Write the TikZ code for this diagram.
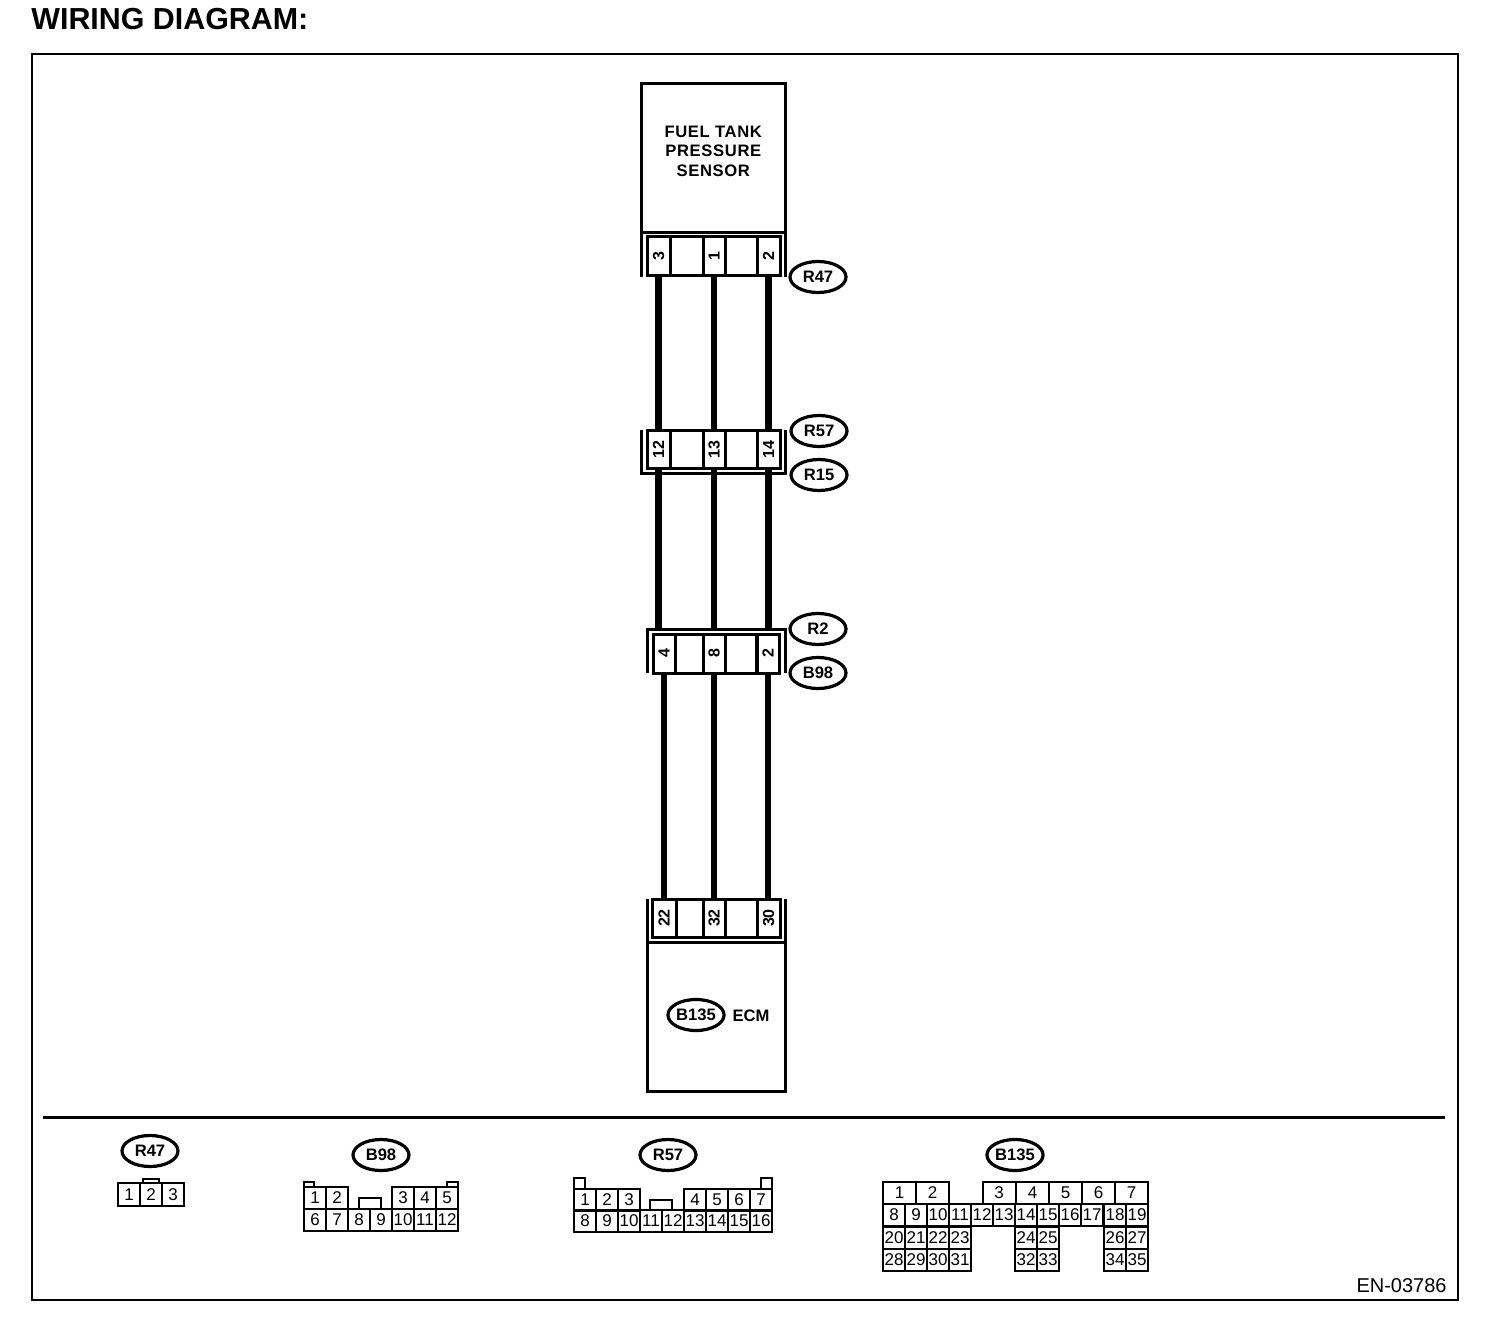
\documentclass[tikz,border=0pt]{standalone}
\usepackage{fontspec}
\setmainfont{Liberation Sans}
\usetikzlibrary{shapes,shapes.geometric}
\tikzset{
	wire/.style={line width=3.4pt},
	pin/.style={draw,line width=1.5pt,inner sep=0pt,outer sep=0pt,font=\bfseries\fontsize{8}{9}\selectfont},
	cell/.style={draw,line width=1pt,inner sep=0pt,outer sep=0pt,minimum width=11.05pt,minimum height=11pt,font=\fontsize{8.5}{9}\selectfont},
	tag/.style={draw,ellipse,line width=1.6pt,inner sep=0pt,minimum width=28pt,minimum height=15.5pt,font=\bfseries\fontsize{8.3}{9}\selectfont},
	heavy/.style={line width=1.5pt}
}
\begin{document}
\begin{tikzpicture}[x=0.5pt,y=-0.5pt]
	\useasboundingbox (0,0) rectangle (1504,1326);
	\node[anchor=west,inner sep=0pt,font=\bfseries\fontsize{15.2}{16}\selectfont] (title) at (31,19) {WIRING DIAGRAM:};
	\draw[line width=1pt] (32,54) rectangle (1458,1300);
	\draw[heavy] (43,1117) -- (1445,1117);
	\node[anchor=east,inner sep=0pt,font=\fontsize{10}{11}\selectfont] (code) at (1447,1286) {EN-03786};

	% sensor and its connector
	\node[draw,heavy,minimum width=71.75pt,minimum height=74.5pt,inner sep=0pt,outer sep=0pt,align=center,
		font=\bfseries\fontsize{8.3}{9.75}\selectfont\addfontfeature{LetterSpace=4}] (sensor) at (713.25,158.5) {FUEL TANK\\PRESSURE\\SENSOR\\[-2.25pt]\mbox{}};
	\draw[heavy] (sensor.south west) -- ++(0,44);
	\draw[heavy] (sensor.south east) -- ++(0,44);
	\foreach \x/\w/\t/\n in {658.5/23/3/a,686.5/33/{}/e,714/22/1/b,741/32/{}/f,768.5/23/2/c}{
		\node[pin,minimum width=\w*0.5pt,minimum height=19.5pt] (rf\n) at (\x,256.5) {\rotatebox{90}{\t}};}
	\node[tag] (r47) at (818,277) {R47};

	% first joint
	\foreach \x/\w/\t/\n in {658.5/23/12/a,686.5/33/{}/e,714/22/13/b,741/32/{}/f,768.5/23/14/c}{
		\node[pin,minimum width=\w*0.5pt,minimum height=19pt] (rs\n) at (\x,449.5) {\rotatebox{90}{\t}};}
	\draw[heavy] (641.5,430) -- (641.5,473) -- (785,473) -- (785,430);
	\node[tag] (r57) at (819,431) {R57};
	\node[tag] (r15) at (819,475) {R15};

	% second joint
	\foreach \x/\w/\t/\n in {664/22/4/a,689/28/{}/e,714/22/8/b,741/32/{}/f,768/23/2/c}{
		\node[pin,minimum width=\w*0.5pt,minimum height=19.5pt] (bs\n) at (\x,653.5) {\rotatebox{90}{\t}};}
	\draw[heavy] (647,673) -- (647,629) coordinate (bj) -- (785,629) -- (785,673);
	\node[tag] (r2) at (818,629) {R2};
	\node[tag] (b98) at (818,673) {B98};

	% ECM
	\foreach \x/\w/\t/\n in {664/24/22/a,689.5/27/{}/e,714/22/32/b,741/32/{}/f,768.5/23/30/c}{
		\node[pin,minimum width=\w*0.5pt,minimum height=19pt] (ec\n) at (\x,918) {\rotatebox{90}{\t}};}
	\node[draw,heavy,minimum width=69pt,minimum height=74.5pt,outer sep=0pt] (ecm) at (716,1017) {};
	\draw[heavy] (ecm.north west) -- ++(0,-44);
	\draw[heavy] (ecm.north east) -- ++(0,-44);
	\node[tag] (b135) at (696,1015) {B135};
	\node[inner sep=0pt,font=\bfseries\fontsize{8.3}{9}\selectfont] (ecmname) at (751,1016) {ECM};

	% wires
	\foreach \n in {a,b,c}{
		\draw[wire] (rf\n.south) -- (rs\n.north);
		\draw[wire] (rs\n.south) -- (rs\n |- bj);
		\draw[wire] (bs\n.south) -- (ec\n.north -| bs\n);
	}

	% legend R47
	\node[tag] (lr47) at (150,1151) {R47};
	\draw[line width=1pt] (142.7,1183) rectangle (158.7,1178.7);
	\foreach \x/\t in {129/1,151/2,173/3}{
		\node[cell,minimum height=11.5pt] (lra\t) at (\x,1194.5) {\t};}

	% legend B98
	\node[tag] (lb98) at (381,1155) {B98};
	\draw[line width=1pt] (303.5,1187) rectangle (314,1182);
	\draw[line width=1pt] (447,1187) rectangle (458,1182);
	\draw[line width=1pt] (359,1209) rectangle (381,1198);
	\foreach \x/\t in {315/1,337/2,403/3,425/4,447/5}{
		\node[cell] (lbt\t) at (\x,1198) {\t};}
	\foreach \x/\t in {315/6,337/7,359/8,381/9,403/10,425/11,447/12}{
		\node[cell] (lbb\t) at (\x,1220) {\t};}

	% legend R57
	\node[tag] (lr57) at (668,1155) {R57};
	\draw[line width=1pt] (574,1189) rectangle (585,1178);
	\draw[line width=1pt] (761,1189) rectangle (772,1178);
	\draw[line width=1pt] (650,1210) rectangle (672,1200);
	\foreach \x/\t in {585/1,607/2,629/3,695/4,717/5,739/6,761/7}{
		\node[cell] (lst\t) at (\x,1199.5) {\t};}
	\foreach \x/\t in {585/8,607/9,629/10,651/11,673/12,695/13,717/14,739/15,761/16}{
		\node[cell] (lsb\t) at (\x,1221) {\t};}

	% legend B135
	\node[tag] (lb135) at (1015,1155) {B135};
	\foreach \x/\t in {899.5/1,932.5/2,999/3,1032.5/4,1065.5/5,1098.5/6,1131.5/7}{
		\node[cell,minimum width=16.5pt] (lct\t) at (\x,1193) {\t};}
	\foreach \x/\t in {894/8,916/9,938/10,960/11,982/12,1004/13,1026/14,1048/15,1070/16,1092/17,1115/18,1137/19}{
		\node[cell] (lcb\t) at (\x,1215) {\t};}
	\foreach \x/\t in {894/20,916/21,938/22,960/23,1026/24,1048/25,1115/26,1137/27}{
		\node[cell] (lcc\t) at (\x,1237.5) {\t};}
	\foreach \x/\t in {894/28,916/29,938/30,960/31,1026/32,1048/33,1115/34,1137/35}{
		\node[cell] (lcd\t) at (\x,1259.5) {\t};}
\end{tikzpicture}
\end{document}
